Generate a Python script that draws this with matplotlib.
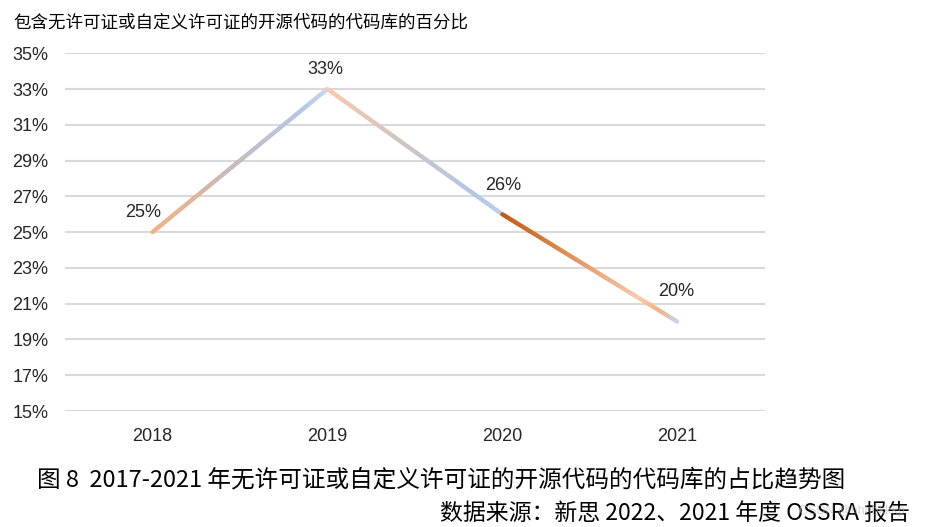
import numpy as np
import matplotlib
matplotlib.use('Agg')
from matplotlib import pyplot as plt
from matplotlib.collections import LineCollection
from matplotlib.colors import LinearSegmentedColormap

plt.rcParams['font.family'] = ['Liberation Sans', 'Noto Sans CJK SC', 'DejaVu Sans']

years = ['2018', '2019', '2020', '2021']
pct = [25, 33, 26, 20]
labels = ['25%', '33%', '26%', '20%']
yticks = [15, 17, 19, 21, 23, 25, 27, 29, 31, 33, 35]

title = '包含无许可证或自定义许可证的开源代码的代码库的百分比'
caption = '图 8  2017-2021 年无许可证或自定义许可证的开源代码的代码库的占比趋势图'
source = '数据来源：新思 2022、2021 年度 OSSRA 报告'

# colour stops along each segment (Excel-style gradient line)
seg_colors = [
    [(0, '#F4B183'), (0.45, '#CBB9BC'), (0.85, '#B4C7E7'), (1, '#C8D5EE')],
    [(0, '#F8CBAD'), (0.45, '#CFC4C6'), (0.85, '#B4C7E7'), (1, '#BFCFEC')],
    [(0, '#C55A11'), (0.45, '#E59A68'), (0.78, '#F8CBAD'), (0.9, '#F4B183'), (1, '#C9D3EC')],
]

fig = plt.figure(figsize=(9.28, 5.27), dpi=100)
ax = fig.add_axes([0.070, 0.220, 0.754, 0.679])

x = np.arange(len(years))
for i in range(len(x) - 1):
    cmap = LinearSegmentedColormap.from_list('s%d' % i, seg_colors[i])
    t = np.linspace(0, 1, 120)
    xs = x[i] + (x[i + 1] - x[i]) * t
    ys = pct[i] + (pct[i + 1] - pct[i]) * t
    pts = np.column_stack([xs, ys]).reshape(-1, 1, 2)
    segs = np.concatenate([pts[:-1], pts[1:]], axis=1)
    lc = LineCollection(segs, colors=cmap(t[:-1]), linewidths=3, capstyle='round', zorder=3)
    ax.add_collection(lc)

offsets = [(-9, 20), (-2, 20), (1, 29), (-1, 30)]
for xi, yi, lab, off in zip(x, pct, labels, offsets):
    ax.annotate(lab, (xi, yi), xytext=off, textcoords='offset pixels',
                ha='center', va='center', fontsize=13, color='#262626')

ax.set_xlim(-0.5, 3.5)
ax.set_ylim(15, 35)
ax.set_xticks(x)
ax.set_xticklabels(years)
ax.set_yticks(yticks)
ax.set_yticklabels(['%d%%' % v for v in yticks])
ax.tick_params(axis='both', length=0, labelsize=13, labelcolor='#262626')
ax.tick_params(axis='y', pad=12)
ax.tick_params(axis='x', pad=12)
ax.grid(True, axis='y', color='#D9D9D9', linewidth=1.5)
ax.set_axisbelow(True)
for s in ax.spines.values():
    s.set_visible(False)

fig.text(0.015, 0.958, title, fontsize=12.6, family=['Noto Sans CJK SC', 'DejaVu Sans'],
         color='#000000', va='center', ha='left')
fig.text(0.040, 0.089, caption, fontsize=17, family=['Noto Sans CJK SC', 'DejaVu Sans'],
         color='#000000', va='center', ha='left')
fig.text(0.981, 0.025, source, fontsize=16.5, family=['Noto Sans CJK SC', 'DejaVu Sans'],
         color='#000000', va='center', ha='right')
fig.text(0.975, 0.030, 'CSDN @hhhhkkkp', fontsize=9, color='#BBBBBB', alpha=0.6,
         va='center', ha='right')

fig.savefig('out.png', dpi=100)
